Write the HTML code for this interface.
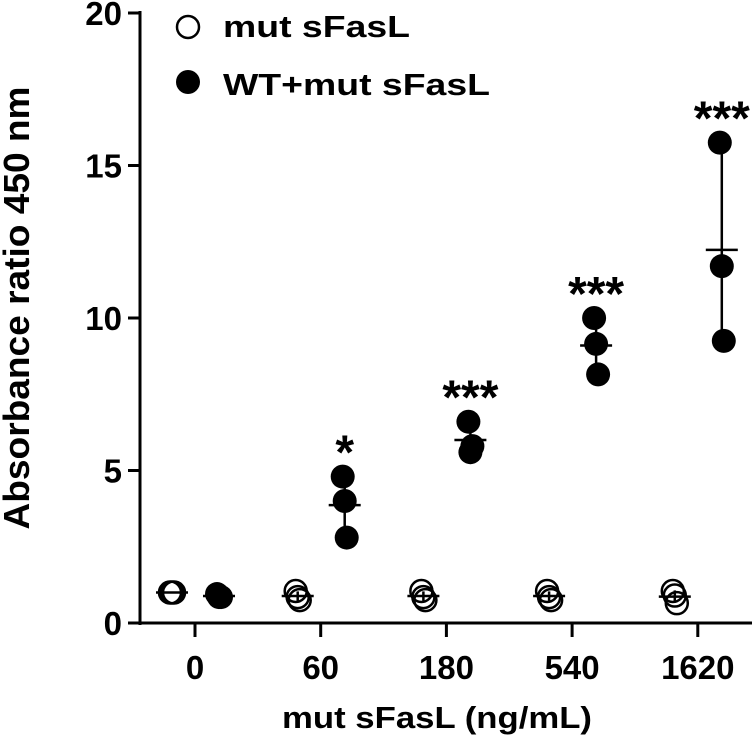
<!DOCTYPE html>
<html><head><meta charset="utf-8"><style>
html,body{margin:0;padding:0;background:#fff;}
svg text{font-family:"Liberation Sans",Arial,sans-serif;font-weight:bold;fill:#000;}
</style></head><body>
<svg id="chart" width="754" height="736" viewBox="0 0 754 736" xmlns="http://www.w3.org/2000/svg"></svg>
<script>
const categories=["0","60","180","540","1620"];
const yTicks=[0,5,10,15,20];
const openVals=[[1.0,1.0,1.0],[1.05,0.85,0.75],[1.05,0.85,0.75],[1.05,0.85,0.75],[1.05,0.9,0.65]];
const filledVals=[[0.95,0.85,0.85],[4.8,4.0,2.8],[6.6,5.6,5.8],[10.0,9.15,8.15],[15.75,11.7,9.25]];
const stars=["","*","***","***","***"];
const NS="http://www.w3.org/2000/svg";
const svg=document.getElementById('chart');
const X0=140,Y0=623,YTOP=13;
function y(v){return Y0-(v/20)*(Y0-YTOP);}
function xc(i){return 195+i*125.7;}
function mk(t,a,p){const e=document.createElementNS(NS,t);for(const k in a)e.setAttribute(k,a[k]);(p||svg).appendChild(e);return e;}
function mean(a){return a.reduce((s,v)=>s+v,0)/a.length;}
function sd(a){const m=mean(a);return Math.sqrt(a.reduce((s,v)=>s+(v-m)*(v-m),0)/(a.length-1));}
let ax=mk('line',{x1:X0,y1:YTOP-2,x2:X0,y2:Y0+2,stroke:'#000','stroke-width':3});

let bx=mk('line',{x1:X0-12,y1:Y0,x2:752,y2:Y0,stroke:'#000','stroke-width':3});

yTicks.forEach(v=>{
 const t=mk('line',{x1:X0-12,y1:y(v),x2:X0,y2:y(v),stroke:'#000','stroke-width':3});
 
 const l=mk('text',{x:X0-18,y:y(v)+12,'text-anchor':'end','font-size':33});l.textContent=v;
 
});
categories.forEach((c,i)=>{
 const t=mk('line',{x1:xc(i),y1:Y0,x2:xc(i),y2:Y0+14,stroke:'#000','stroke-width':3});
 
 const l=mk('text',{x:xc(i),y:Y0+56,'text-anchor':'middle','font-size':33});l.textContent=c;
 
});
function group(vals,cx,filled,name){
 const g=mk('g',{});
 
 const m=mean(vals),s=sd(vals);
 vals.forEach((v,j)=>{
  const c=mk('circle',{cx:cx+(j-1)*2,cy:y(v),r:filled?12:11,fill:filled?'#000':'none',stroke:'#000','stroke-width':filled?0:2.5},g);
  
 });
 const e=mk('line',{x1:cx,y1:y(m+s),x2:cx,y2:y(m-s),stroke:'#000','stroke-width':2.5},g);
 
 const ml=mk('line',{x1:cx-16,y1:y(m),x2:cx+16,y2:y(m),stroke:'#000','stroke-width':2.5},g);
 
}
categories.forEach((c,i)=>{
 group(openVals[i],xc(i)-23,false,'open-group-'+c);
 group(filledVals[i],xc(i)+24,true,'filled-group-'+c);
 if(stars[i]){
  const mx=Math.max(...filledVals[i]);
  const st=mk('text',{x:xc(i)+24,y:y(mx)-8,'text-anchor':'middle','font-size':48});st.textContent=stars[i];
  
 }
});
let lc1=mk('circle',{cx:188,cy:27,r:11,fill:'none',stroke:'#000','stroke-width':2.5});

let lt1=mk('text',{x:223,y:37,'font-size':31,textLength:187,lengthAdjust:'spacingAndGlyphs'});lt1.textContent='mut sFasL';

let lc2=mk('circle',{cx:188,cy:82,r:12,fill:'#000'});

let lt2=mk('text',{x:223,y:95,'font-size':31,textLength:267,lengthAdjust:'spacingAndGlyphs'});lt2.textContent='WT+mut sFasL';

let xt=mk('text',{x:282,y:728,'font-size':31,textLength:310,lengthAdjust:'spacingAndGlyphs'});xt.textContent='mut sFasL (ng/mL)';

let yt=mk('text',{x:0,y:0,'text-anchor':'middle','font-size':36,textLength:443,lengthAdjust:'spacingAndGlyphs',transform:'translate(29,308) rotate(-90)'});yt.textContent='Absorbance ratio 450 nm';

</script>
</body></html>
